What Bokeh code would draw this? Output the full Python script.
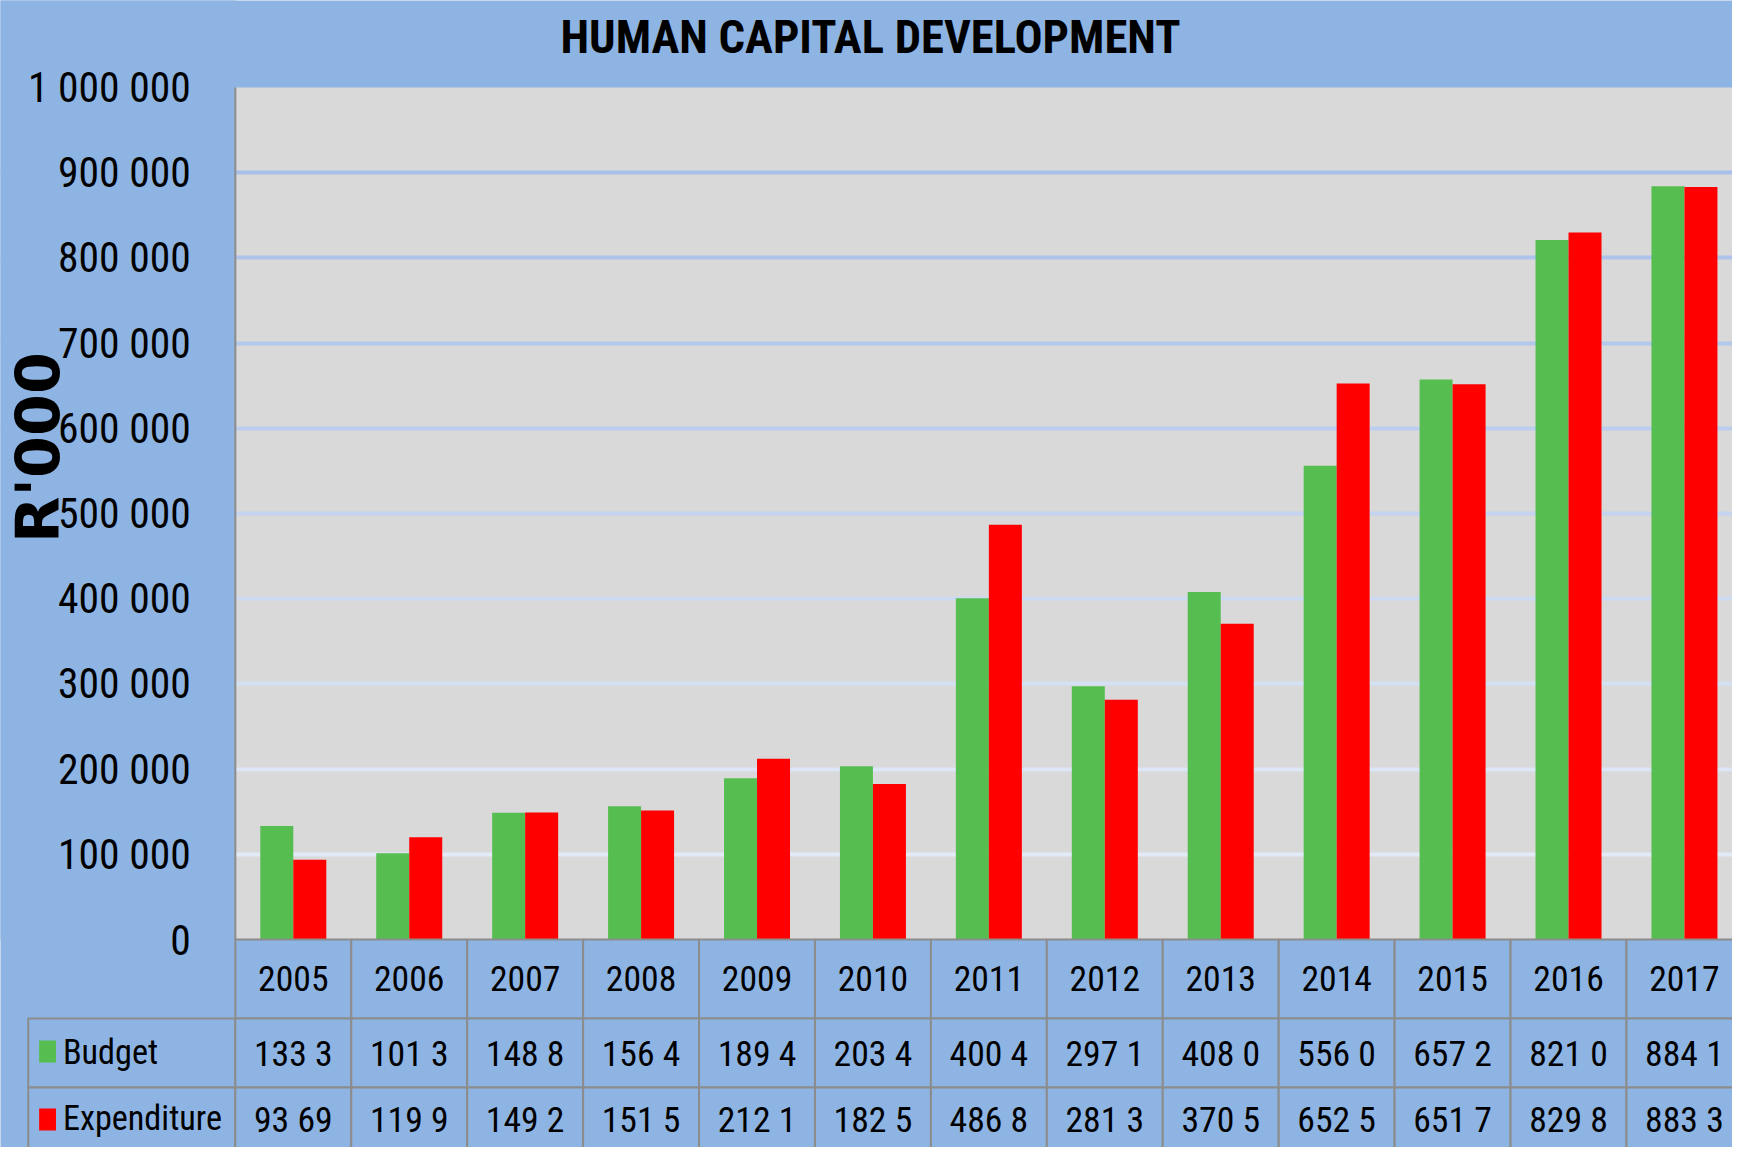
import numpy as np
from bokeh.plotting import figure
from bokeh.models import Range1d, FixedTicker, Grid
from bokeh.core.properties import value
from bokeh.embed import file_html
from bokeh.resources import INLINE

# ---------------- data ----------------
title_text = "HUMAN CAPITAL DEVELOPMENT"
y_label = "R'000"
years = ["2005", "2006", "2007", "2008", "2009", "2010", "2011",
         "2012", "2013", "2014", "2015", "2016", "2017"]
series_names = ["Budget", "Expenditure"]
budget = [133300, 101300, 148800, 156400, 189400, 203400, 400400,
          297100, 408000, 556000, 657200, 821000, 884100]
expenditure = [93690, 119900, 149200, 151500, 212100, 182500, 486800,
               281300, 370500, 652500, 651700, 829800, 883300]
budget_labels = ["133 3", "101 3", "148 8", "156 4", "189 4", "203 4", "400 4",
                 "297 1", "408 0", "556 0", "657 2", "821 0", "884 1"]
expenditure_labels = ["93 69", "119 9", "149 2", "151 5", "212 1", "182 5", "486 8",
                      "281 3", "370 5", "652 5", "651 7", "829 8", "883 3"]
y_ticks = [0, 100000, 200000, 300000, 400000, 500000,
           600000, 700000, 800000, 900000, 1000000]
y_tick_labels = ["0", "100 000", "200 000", "300 000", "400 000", "500 000",
                 "600 000", "700 000", "800 000", "900 000", "1 000 000"]

# ---------------- style / layout ----------------
BG = "#8EB4E3"
PLOT_BG = "#D9D9D9"
GREEN = "#56BE50"
RED = "#FF0000"
TABLE_LINE = "#8C8C8C"
GRID_COLORS = ["#E2EAF7", "#DCE6F6", "#D4E0F4", "#CCDAF2", "#C4D4F0",
               "#BCCEEE", "#B4C8EC", "#ADC3EB", "#A8BFEA"]
NARROW = value("Roboto Condensed")

W, H = 1732, 1147              # figure size
REF_W = 1748                   # horizontal layout canvas, scaled into W
PLOT_LEFT = 237.0              # layout px of x = 0
ZERO_Y = 939.0                 # layout px of y = 0
TOP_Y = 87.0                   # layout px of y = Y_MAX
COL_PX = 117.0
Y_MAX = 1000000.0
PX_PER_Y = (ZERO_Y - TOP_Y) / Y_MAX
FS = W / REF_W                 # font scale


def xd(px):
    return (px - PLOT_LEFT) / COL_PX


def yd(py):
    return (ZERO_Y - py) / PX_PER_Y


def fs(px):
    return "%.1fpx" % (px * FS)


p = figure(width=W, height=H, x_range=Range1d(xd(0), xd(REF_W)),
           y_range=Range1d(yd(H), yd(0)),
           x_axis_type=None, y_axis_type=None, output_backend="svg",
           toolbar_location=None, min_border=0)
p.background_fill_color = BG
p.border_fill_color = BG
p.outline_line_color = None

n = len(years)
idx = np.arange(n)
x_end = xd(REF_W) + 1

# plot area background
p.quad(left=[0], right=[x_end], bottom=[0], top=[Y_MAX], fill_color=PLOT_BG,
       line_color=None, level="image")

# horizontal grid lines (one Grid per tick for the gradient look)
for t, c in zip(y_ticks[1:-1], GRID_COLORS):
    g = Grid(dimension=1, ticker=FixedTicker(ticks=[t]), grid_line_color=c,
             grid_line_width=4)
    p.add_layout(g, "center")

# cover grid lines left of the plot area
p.quad(left=[xd(-10)], right=[0], bottom=[0], top=[yd(-10)], fill_color=BG, line_color=None)

# bars
bw = 33.3 / COL_PX
p.vbar(x=idx + 0.5 - bw / 2, top=budget, bottom=0, width=bw, fill_color=GREEN, line_color=None)
p.vbar(x=idx + 0.5 + bw / 2, top=expenditure, bottom=0, width=bw, fill_color=RED, line_color=None)

# plot area left border
p.segment(x0=[0], y0=[0], x1=[0], y1=[Y_MAX], line_color=TABLE_LINE, line_width=2)

# ---------------- data table ----------------
row_year = (ZERO_Y, ZERO_Y + 79)
row_bud = (ZERO_Y + 79, ZERO_Y + 148)
row_exp = (ZERO_Y + 148, ZERO_Y + 240)
legend_left = xd(28)

p.quad(left=idx, right=idx + 1, top=yd(row_year[0]), bottom=yd(row_year[1]),
       fill_color=BG, line_color=TABLE_LINE, line_width=2)
for (r0, r1) in (row_bud, row_exp):
    p.quad(left=np.r_[legend_left, idx], right=np.r_[0, idx + 1],
           top=yd(r0), bottom=yd(r1), fill_color=BG, line_color=TABLE_LINE, line_width=2)

CELL_FS = fs(36)
p.text(x=idx + 0.5, y=yd(978), text=years,
       text_align="center", text_baseline="middle", text_font=NARROW,
       text_font_size=CELL_FS, text_color="black")
p.text(x=idx + 0.5, y=yd(1053), text=budget_labels,
       text_align="center", text_baseline="middle", text_font=NARROW,
       text_font_size=CELL_FS, text_color="black")
p.text(x=idx + 0.5, y=yd(1119), text=expenditure_labels,
       text_align="center", text_baseline="middle", text_font=NARROW,
       text_font_size=CELL_FS, text_color="black")

# legend keys in the table
p.quad(left=[xd(39)], right=[xd(56)], top=[yd(1040)], bottom=[yd(1062)],
       fill_color=GREEN, line_color=None)
p.quad(left=[xd(39)], right=[xd(56)], top=[yd(1108)], bottom=[yd(1130)],
       fill_color=RED, line_color=None)
p.text(x=[xd(63), xd(63)], y=[yd(1051), yd(1117)],
       text=series_names, text_align="left", text_baseline="middle",
       text_font=NARROW, text_font_size=fs(34.5), text_color="black")

# y tick labels
p.text(x=xd(192), y=y_ticks, text=y_tick_labels, text_align="right",
       text_baseline="middle", text_font=NARROW, text_font_size=fs(42),
       text_color="black")

# y axis title
p.text(x=[xd(38)], y=[yd(447)], text=[y_label], angle=np.pi / 2,
       text_align="center", text_baseline="middle", text_font=value("DejaVu Sans"),
       text_font_style="bold", text_font_size=fs(61), text_color="black")

# chart title
p.text(x=[xd(878)], y=[yd(36)], text=[title_text], text_align="center",
       text_baseline="middle", text_font=NARROW, text_font_style="bold",
       text_font_size=fs(47), text_color="black")

open("out.html", "w").write(file_html(p, INLINE))
